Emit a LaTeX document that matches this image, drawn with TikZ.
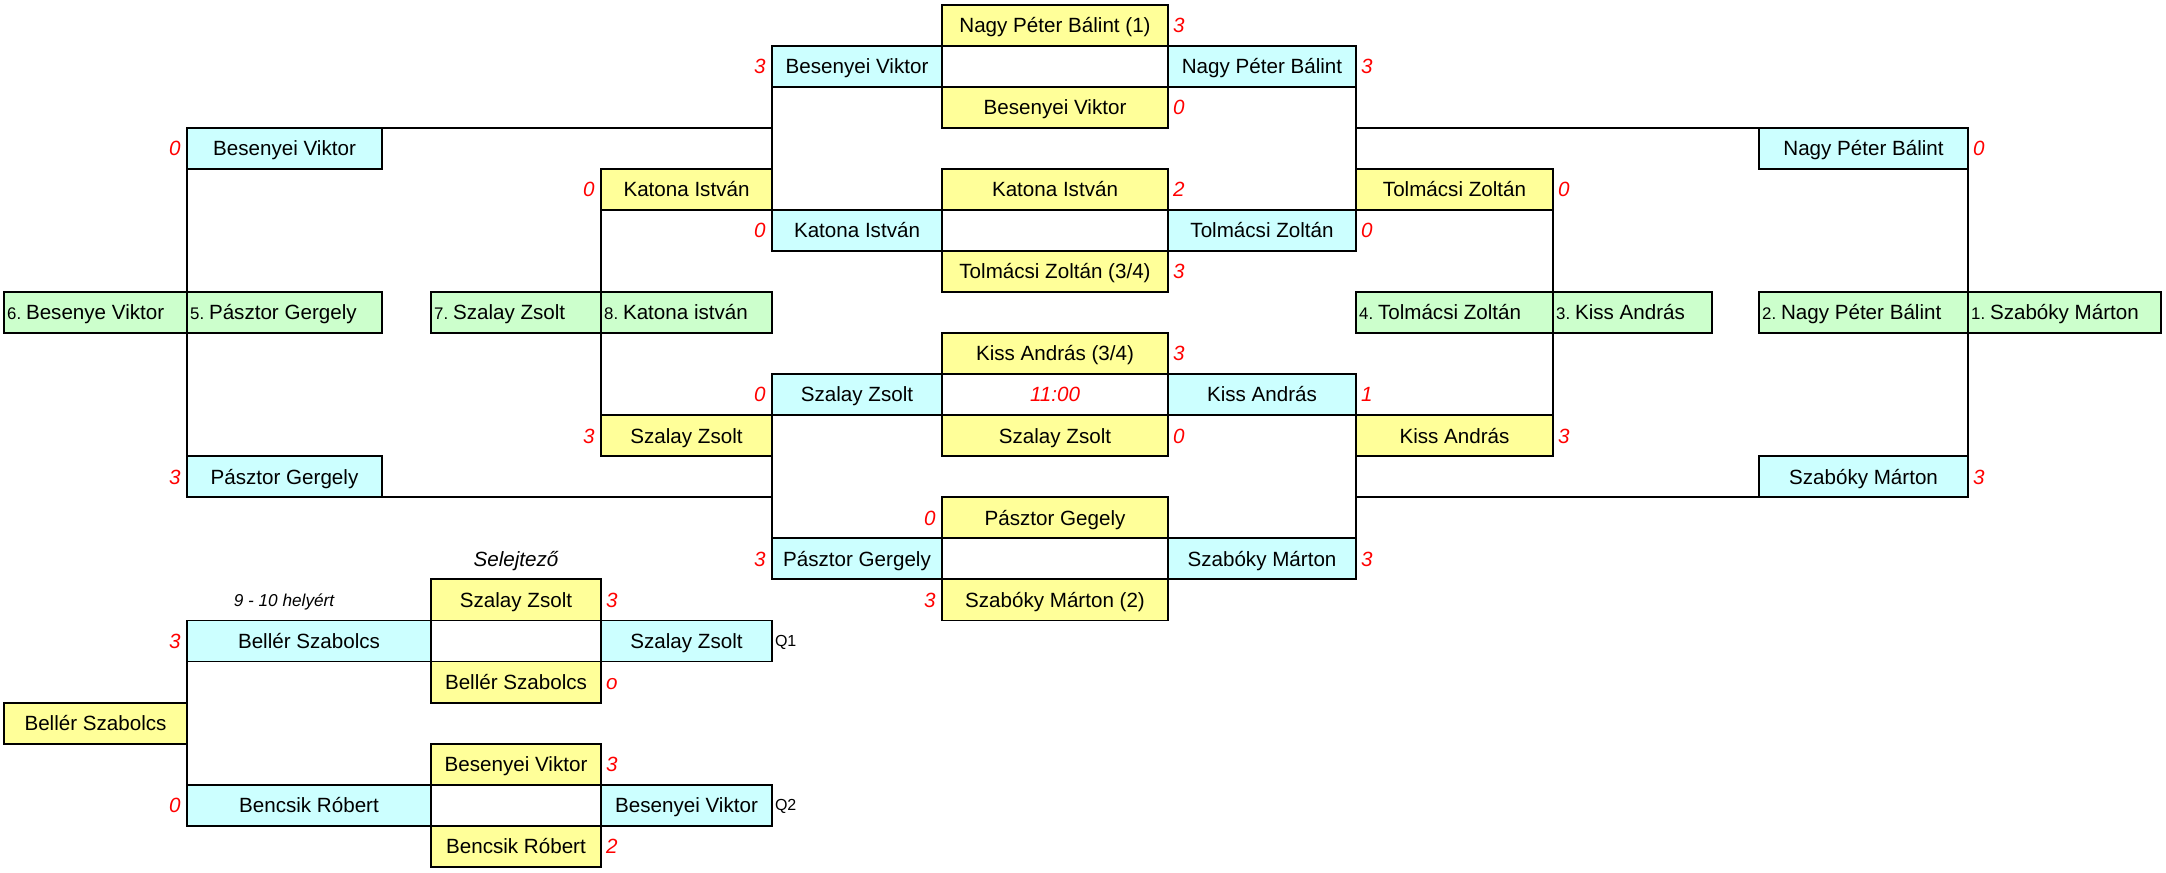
\documentclass[tikz,border=0pt]{standalone}
\usepackage{fontspec}
\setmainfont{Liberation Sans}
\definecolor{cy}{HTML}{CCFFFF}
\definecolor{ye}{HTML}{FFFF99}
\definecolor{gr}{HTML}{CCFFCC}
\definecolor{rd}{HTML}{FF0000}
% name, style, xl, xr, row, text
\newcommand\bx[6]{%
  \pgfmathsetmacro\bw{(#4-#3)*0.5}%
  \pgfmathsetmacro\by{4.7+41.05*#5}%
  \node[#2, minimum width=\bw pt, anchor=north west] (#1) at (#3,\by) {#6};}
% green: name, xl, xr, row, prefix, text
\newcommand\gbx[6]{%
  \pgfmathsetmacro\bw{(#3-#2)*0.5}%
  \pgfmathsetmacro\by{4.7+41.05*#4}%
  \node[gbox, minimum width=\bw pt, anchor=north west] (#1) at (#2,\by) {};
  \node[inner sep=0pt, outer sep=0pt, anchor=base west, font=\fontsize{10.3}{12}\selectfont] (#1t) at ([xshift=1.6pt, yshift=-3.65pt]#1.west) {{\fontsize{8.4}{9}\selectfont #5}\hspace{2.4pt}#6};}
\newcommand\scr[3]{% name, anchor-node.side, text  (right)
  \node[sc, anchor=west] (#1) at ([xshift=2.6pt]#2) {#3};}
\newcommand\scl[3]{% left
  \node[sc, anchor=east] (#1) at ([xshift=-3.2pt]#2) {#3};}
\begin{document}
\begin{tikzpicture}[x=0.5pt,y=-0.5pt,
  box/.style={draw=black, line width=0.95pt, minimum height=20.525pt, inner sep=0pt, outer sep=0pt,
    font=\fontsize{10.3}{12}\selectfont, text height=7.3pt, text depth=0pt},
  cbox/.style={box, fill=cy},
  ybox/.style={box, fill=ye},
  gbox/.style={box, fill=gr},
  sc/.style={text=rd, font=\fontsize{10.3}{12}\selectfont\itshape, inner sep=0pt, outer sep=0pt, text height=7.3pt, text depth=0pt},
  qn/.style={font=\fontsize{8}{9}\selectfont, inner sep=0pt, outer sep=0pt, text height=5.7pt, text depth=0pt},
  conn/.style={line width=0.95pt}]
\useasboundingbox (0,0) rectangle (2166,872);
% ---------- centre column
\bx{y0}{ybox}{942}{1168}{0}{Nagy Péter Bálint (1)}
\bx{c1l}{cbox}{772}{942}{1}{Besenyei Viktor}
\bx{c1r}{cbox}{1168}{1356}{1}{Nagy Péter Bálint}
\bx{y2}{ybox}{942}{1168}{2}{Besenyei Viktor}
\bx{y4}{ybox}{942}{1168}{4}{Katona István}
\bx{c5l}{cbox}{772}{942}{5}{Katona István}
\bx{c5r}{cbox}{1168}{1356}{5}{Tolmácsi Zoltán}
\bx{y6}{ybox}{942}{1168}{6}{Tolmácsi Zoltán (3/4)}
\bx{y8}{ybox}{942}{1168}{8}{Kiss András (3/4)}
\bx{c9l}{cbox}{772}{942}{9}{Szalay Zsolt}
\bx{c9r}{cbox}{1168}{1356}{9}{Kiss András}
\bx{y10}{ybox}{942}{1168}{10}{Szalay Zsolt}
\bx{y12}{ybox}{942}{1168}{12}{Pásztor Gegely}
\bx{c13l}{cbox}{772}{942}{13}{Pásztor Gergely}
\bx{c13r}{cbox}{1168}{1356}{13}{Szabóky Márton}
\bx{y14}{ybox}{942}{1168}{14}{Szabóky Márton (2)}
\node[sc] (t1100) at (1055,{4.7+41.05*9.5}) {11:00};
% ---------- left side
\bx{lbv}{cbox}{187}{382}{3}{Besenyei Viktor}
\bx{lk4}{ybox}{601}{772}{4}{Katona István}
\bx{lsz10}{ybox}{601}{772}{10}{Szalay Zsolt}
\bx{lpg}{cbox}{187}{382}{11}{Pásztor Gergely}
\gbx{g6}{4}{187}{7}{6.}{Besenye Viktor}
\gbx{g5}{187}{382}{7}{5.}{Pásztor Gergely}
\gbx{g7}{431}{601}{7}{7.}{Szalay Zsolt}
\gbx{g8}{601}{772}{7}{8.}{Katona istván}
% ---------- right side
\bx{rnpb}{cbox}{1759}{1968}{3}{Nagy Péter Bálint}
\bx{rtz4}{ybox}{1356}{1553}{4}{Tolmácsi Zoltán}
\bx{rka10}{ybox}{1356}{1553}{10}{Kiss András}
\bx{rsm}{cbox}{1759}{1968}{11}{Szabóky Márton}
\gbx{g4}{1356}{1553}{7}{4.}{Tolmácsi Zoltán}
\gbx{g3}{1553}{1712}{7}{3.}{Kiss András}
\gbx{g2}{1759}{1968}{7}{2.}{Nagy Péter Bálint}
\gbx{g1}{1968}{2161}{7}{1.}{Szabóky Márton}
% ---------- bottom section
\node[font=\fontsize{10.3}{12}\selectfont\itshape, inner sep=0pt, text height=7.3pt, text depth=0pt] (sel) at (516,{4.7+41.05*13.5}) {Selejtező};
\node[font=\fontsize{8.6}{10}\selectfont\itshape, inner sep=0pt, text height=6.2pt, text depth=0pt] (hely) at (284,{4.7+41.05*14.5}) {9 - 10 helyért};
\bx{bsz14}{ybox}{431}{601}{14}{Szalay Zsolt}
\bx{bbs15}{cbox}{187}{431}{15}{Bellér Szabolcs}
\bx{bsz15}{cbox}{601}{772}{15}{Szalay Zsolt}
\bx{bbs16}{ybox}{431}{601}{16}{Bellér Szabolcs}
\bx{bbs17}{ybox}{4}{187}{17}{Bellér Szabolcs}
\bx{bbv18}{ybox}{431}{601}{18}{Besenyei Viktor}
\bx{bbr19}{cbox}{187}{431}{19}{Bencsik Róbert}
\bx{bbv19}{cbox}{601}{772}{19}{Besenyei Viktor}
\bx{bbr20}{ybox}{431}{601}{20}{Bencsik Róbert}
% ---------- connectors
\draw[conn] (lbv.north east) -- (lbv.north east -| c1l.south west);
\draw[conn] (c1l.south west) -- (lk4.north east);
\draw[conn] (lbv.south west) -- (g6.north east);
\draw[conn] (g6.south east) -- (lpg.north west);
\draw[conn] (lk4.south west) -- (g7.north east);
\draw[conn] (g7.south east) -- (lsz10.north west);
\draw[conn] (lsz10.south east) -- (c13l.north west);
\draw[conn] (lpg.south east) -- (lpg.south east -| c13l.north west);
\draw[conn] (rnpb.north west) -- (rnpb.north west -| c1r.south east);
\draw[conn] (c1r.south east) -- (rtz4.north west);
\draw[conn] (rnpb.south east) -- (g2.north east);
\draw[conn] (g2.south east) -- (rsm.north east);
\draw[conn] (rtz4.south east) -- (g4.north east);
\draw[conn] (g4.south east) -- (rka10.north east);
\draw[conn] (rka10.south west) -- (c13r.north east);
\draw[conn] (rsm.south west) -- (rsm.south west -| c13r.north east);
\draw[conn] (bbs15.south west) -- (bbs17.north east);
\draw[conn] (bbs17.south east) -- (bbr19.north west);
% ---------- scores
\scr{s0}{y0.east}{3}
\scl{s1l}{c1l.west}{3}
\scr{s1r}{c1r.east}{3}
\scr{s2}{y2.east}{0}
\scl{s3l}{lbv.west}{0}
\scr{s3r}{rnpb.east}{0}
\scl{s4l}{lk4.west}{0}
\scr{s4}{y4.east}{2}
\scr{s4r}{rtz4.east}{0}
\scl{s5l}{c5l.west}{0}
\scr{s5r}{c5r.east}{0}
\scr{s6}{y6.east}{3}
\scr{s8}{y8.east}{3}
\scl{s9l}{c9l.west}{0}
\scr{s9r}{c9r.east}{1}
\scl{s10l}{lsz10.west}{3}
\scr{s10}{y10.east}{0}
\scr{s10r}{rka10.east}{3}
\scl{s11l}{lpg.west}{3}
\scr{s11r}{rsm.east}{3}
\scl{s12}{y12.west}{0}
\scl{s13l}{c13l.west}{3}
\scr{s13r}{c13r.east}{3}
\scl{s14}{y14.west}{3}
\scr{b14}{bsz14.east}{3}
\scl{b15}{bbs15.west}{3}
\node[qn, anchor=west] (q1) at ([xshift=1.5pt]bsz15.east) {Q1};
\scr{b16}{bbs16.east}{o}
\scr{b18}{bbv18.east}{3}
\scl{b19}{bbr19.west}{0}
\node[qn, anchor=west] (q2) at ([xshift=1.5pt]bbv19.east) {Q2};
\scr{b20}{bbr20.east}{2}
\end{tikzpicture}
\end{document}
